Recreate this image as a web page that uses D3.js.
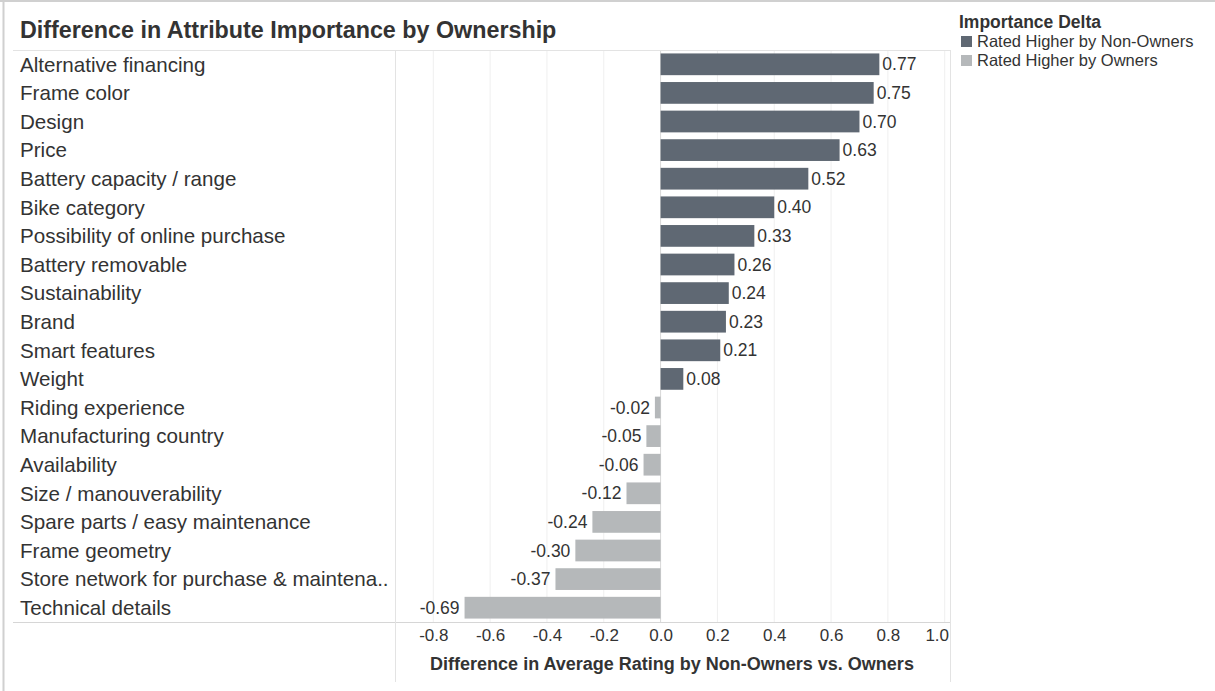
<!DOCTYPE html>
<html>
<head>
<meta charset="utf-8">
<script src="https://cdn.jsdelivr.net/npm/d3@7"></script>
<style>
  body { margin: 0; background: #fff; }
  text { font-family: "Liberation Sans", Arial, Helvetica, sans-serif; }
</style>
</head>
<body>
<div id="chart"></div>
<script>
// Data
const attributes = [
  "Alternative financing", "Frame color", "Design", "Price",
  "Battery capacity / range", "Bike category", "Possibility of online purchase",
  "Battery removable", "Sustainability", "Brand", "Smart features", "Weight",
  "Riding experience", "Manufacturing country", "Availability",
  "Size / manouverability", "Spare parts / easy maintenance", "Frame geometry",
  "Store network for purchase & maintena..", "Technical details"
];
const deltas = [0.77, 0.75, 0.70, 0.63, 0.52, 0.40, 0.33, 0.26, 0.24, 0.23, 0.21, 0.08,
  -0.02, -0.05, -0.06, -0.12, -0.24, -0.30, -0.37, -0.69];
const tickValues = [-0.8, -0.6, -0.4, -0.2, 0.0, 0.2, 0.4, 0.6, 0.8, 1.0];
const legendLabels = ["Rated Higher by Non-Owners", "Rated Higher by Owners"];
const legendColors = ["#5f6873", "#b5b8ba"];

const width = 1215, height = 691;
const plotLeft = 395, plotRight = 950, plotTop = 50, plotBottom = 622;
const textColor = "#333";

const svg = d3.select("#chart").append("svg")
  .attr("width", width).attr("height", height);

// outer frame (top + left)
svg.append("line").attr("x1", 0).attr("x2", width).attr("y1", 1).attr("y2", 1)
  .attr("stroke", "#d0d0d0").attr("stroke-width", 2);
svg.append("line").attr("x1", 3.5).attr("x2", 3.5).attr("y1", 0).attr("y2", height)
  .attr("stroke", "#d0d0d0").attr("stroke-width", 2);

// Title
svg.append("text").attr("x", 20).attr("y", 38)
  .attr("font-size", 23.3).attr("font-weight", "bold").attr("fill", textColor)
  .text("Difference in Attribute Importance by Ownership");

// Scales
const x = d3.scaleLinear().domain([-0.8, 1.0]).range([433.3, 944.7]);
const y = d3.scaleBand().domain(attributes).range([plotTop, plotBottom]).paddingInner(0.24).paddingOuter(0.12);
const fmt = d => d3.format(".1f")(d).replace("\u2212", "-");

// gridlines
svg.append("g").selectAll("line")
  .data(tickValues).join("line")
  .attr("x1", d => x(d)).attr("x2", d => x(d))
  .attr("y1", plotTop).attr("y2", plotBottom)
  .attr("stroke", d => d === 0 ? "#d8d8d8" : "#efefef").attr("stroke-width", 1);

// frame lines of the plot
svg.append("line").attr("x1", 13).attr("x2", plotRight).attr("y1", plotTop + 0.5).attr("y2", plotTop + 0.5)
  .attr("stroke", "#e3e3e3");
svg.append("line").attr("x1", 13).attr("x2", plotRight).attr("y1", plotBottom + 0.5).attr("y2", plotBottom + 0.5)
  .attr("stroke", "#d6d6d6");
[plotLeft, plotRight].forEach(px => {
  svg.append("line").attr("x1", px + 0.5).attr("x2", px + 0.5).attr("y1", plotTop).attr("y2", 682)
    .attr("stroke", "#e3e3e3");
});

// row labels
const rowY = d => plotTop + (plotBottom - plotTop) / attributes.length * (attributes.indexOf(d) + 0.5);
svg.append("g").selectAll("text")
  .data(attributes).join("text")
  .attr("x", 20).attr("y", d => rowY(d)).attr("dy", "0.35em")
  .attr("font-size", 20.6).attr("fill", textColor)
  .text(d => d);

// bars
svg.append("g").selectAll("rect")
  .data(deltas).join("rect")
  .attr("x", d => x(Math.min(0, d)))
  .attr("y", (d, i) => y(attributes[i]))
  .attr("width", d => Math.abs(x(d) - x(0)))
  .attr("height", y.bandwidth())
  .attr("fill", d => d >= 0 ? legendColors[0] : legendColors[1]);

// bar value labels
svg.append("g").selectAll("text")
  .data(deltas).join("text")
  .attr("x", d => d >= 0 ? x(d) + 3 : x(d) - 5)
  .attr("y", (d, i) => rowY(attributes[i])).attr("dy", "0.35em")
  .attr("text-anchor", d => d >= 0 ? "start" : "end")
  .attr("font-size", 17.5).attr("fill", textColor)
  .text(d => d.toFixed(2));

// x axis tick labels
const axis = d3.axisBottom(x).tickValues(tickValues).tickFormat(fmt).tickSize(0).tickPadding(7);
const gAxis = svg.append("g").attr("transform", `translate(0,${plotBottom})`).call(axis);
gAxis.select(".domain").remove();
gAxis.selectAll("text")
  .attr("font-size", 17).attr("fill", textColor)
  .attr("font-family", "Liberation Sans, Arial, sans-serif")
  .attr("dx", d => d === 1.0 ? -8 : 0);

// axis title
svg.append("text").attr("x", 672).attr("y", 670).attr("text-anchor", "middle")
  .attr("font-size", 18).attr("font-weight", "bold").attr("fill", textColor)
  .text("Difference in Average Rating by Non-Owners vs. Owners");

// legend
const legend = svg.append("g").attr("transform", "translate(959,0)");
legend.append("text").attr("x", 0).attr("y", 28)
  .attr("font-size", 17.5).attr("font-weight", "bold").attr("fill", textColor)
  .text("Importance Delta");
const items = legend.selectAll("g.item").data(legendLabels).join("g")
  .attr("class", "item")
  .attr("transform", (d, i) => `translate(0,${35 + i * 19})`);
items.append("rect").attr("x", 2).attr("y", 1).attr("width", 11).attr("height", 11)
  .attr("fill", (d, i) => legendColors[i]);
items.append("text").attr("x", 18).attr("y", 6.5).attr("dy", "0.35em")
  .attr("font-size", 16.5).attr("fill", textColor)
  .text(d => d);
</script>
</body>
</html>
